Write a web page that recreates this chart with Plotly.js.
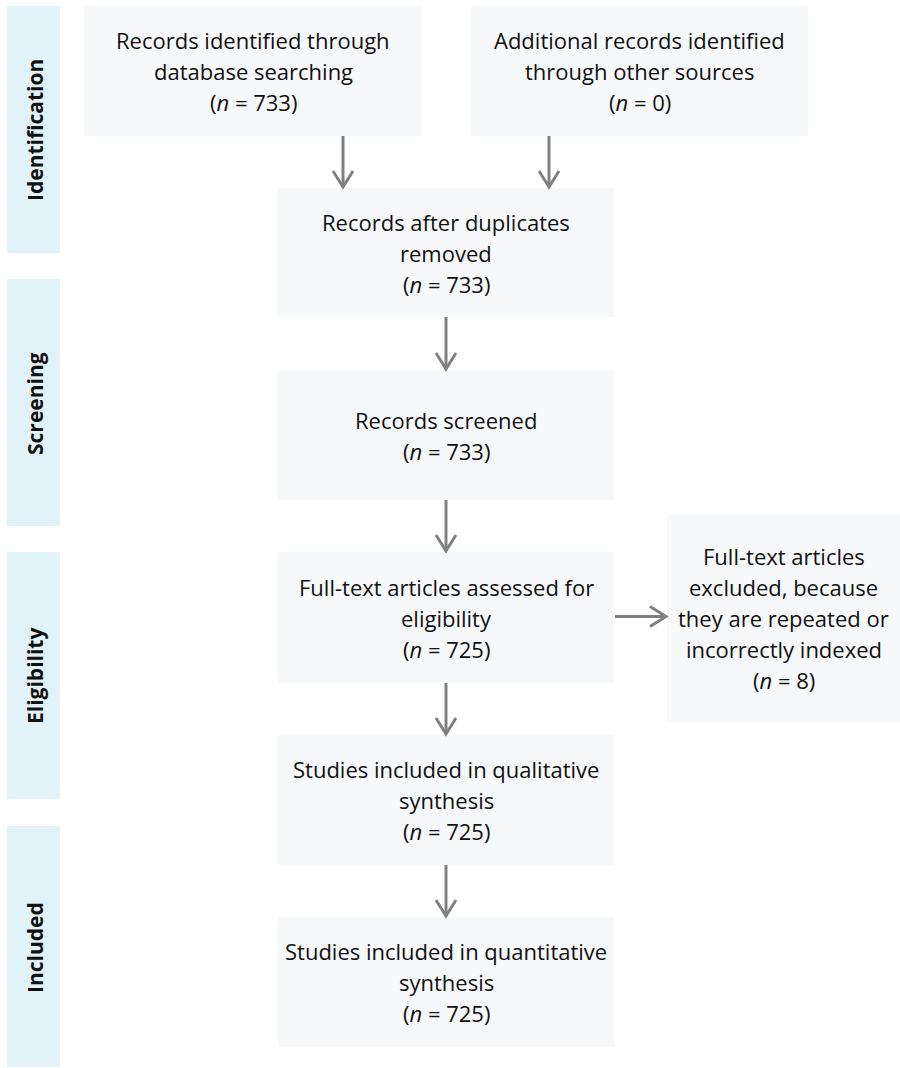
<!DOCTYPE html>
<html>
<head>
<meta charset="utf-8">
<script src="https://cdn.plot.ly/plotly-3.0.1.min.js"></script>
<style>html,body{margin:0;padding:0;background:#fff;}#chart{width:900px;height:1068px;}</style>
</head>
<body>
<div id="chart"></div>
<script>
// ---- data ----
const stageNames = ["Identification", "Screening", "Eligibility", "Included"];
const boxLabels = [
  ["Records identified through", "database searching"],
  ["Additional records identified", "through other sources"],
  ["Records after duplicates", "removed"],
  ["Records screened"],
  ["Full-text articles assessed for", "eligibility"],
  ["Full-text articles", "excluded, because", "they are repeated or", "incorrectly indexed"],
  ["Studies included in qualitative", "synthesis"],
  ["Studies included in quantitative", "synthesis"]
];
const boxCounts = [733, 0, 733, 733, 725, 8, 725, 725];
// flow links: [from, to]
const links = [[0, 2], [1, 2], [2, 3], [3, 4], [4, 5], [4, 6], [6, 7]];

// ---- layout geometry (pixels) ----
const W = 900, H = 1068;
const bandX = [7, 60];
const bandY = [[6, 253], [279, 526], [552, 799], [826, 1067]];
const boxGeom = [
  {x0: 84, x1: 422, y0: 6, y1: 136},
  {x0: 471, x1: 808, y0: 6, y1: 136},
  {x0: 278, x1: 614, y0: 188, y1: 317},
  {x0: 278, x1: 614, y0: 370, y1: 500},
  {x0: 278, x1: 614, y0: 552, y1: 683},
  {x0: 667, x1: 900, y0: 514, y1: 722},
  {x0: 278, x1: 614, y0: 735, y1: 865},
  {x0: 278, x1: 614, y0: 917, y1: 1047}
];
const dropX = [343, 549]; // arrow positions from the two top boxes
const boxFill = "#f7f8fa";
const bandFill = "#e1f2f9";
const arrowColor = "#808080";
const textColor = "#111111";
const fontFam = "'Open Sans', 'Noto Sans', sans-serif";
const lineGap = 31;
const boxFont = 22;

const shapes = [];
const annotations = [];

// stage bands
stageNames.forEach((name, i) => {
  const [y0, y1] = bandY[i];
  shapes.push({type: "rect", xref: "x", yref: "y", x0: bandX[0], x1: bandX[1], y0: y0, y1: y1,
    fillcolor: bandFill, line: {width: 0}, layer: "below"});
  annotations.push({xref: "x", yref: "y", x: (bandX[0] + bandX[1]) / 2 + 1, y: (y0 + y1) / 2 + 1,
    text: "<b>" + name + "</b>", textangle: -90, showarrow: false,
    font: {family: fontFam, size: 21, color: textColor}, xanchor: "center", yanchor: "middle"});
});

// boxes
boxGeom.forEach((g, i) => {
  shapes.push({type: "rect", xref: "x", yref: "y", x0: g.x0, x1: g.x1, y0: g.y0, y1: g.y1,
    fillcolor: boxFill, line: {width: 0}, layer: "below"});
  const lines = boxLabels[i].concat(["(<i>n</i> = " + boxCounts[i] + ")"]);
  const cx = (g.x0 + g.x1) / 2;
  const cy = (g.y0 + g.y1) / 2;
  const n = lines.length;
  lines.forEach((t, k) => {
    annotations.push({xref: "x", yref: "y", x: cx, y: cy + (k - (n - 1) / 2) * lineGap,
      text: t, showarrow: false, xanchor: "center", yanchor: "middle",
      font: {family: fontFam, size: boxFont, color: textColor}});
  });
});

// arrows
function chevron(tx, ty, dir) {
  const a = 10, b = 16;
  if (dir === "down") return `M ${tx - a} ${ty - b} L ${tx} ${ty} L ${tx + a} ${ty - b}`;
  return `M ${tx - b} ${ty - a} L ${tx} ${ty} L ${tx - b} ${ty + a}`;
}
links.forEach(([f, t]) => {
  const A = boxGeom[f], B = boxGeom[t];
  if (B.x0 >= A.x1) {
    const y = (A.y0 + A.y1) / 2 - 1;
    shapes.push({type: "line", xref: "x", yref: "y", x0: A.x1 + 1, x1: B.x0 - 1, y0: y, y1: y,
      line: {color: arrowColor, width: 3}});
    shapes.push({type: "path", xref: "x", yref: "y", path: chevron(B.x0 - 1, y, "right"),
      line: {color: arrowColor, width: 3}});
  } else {
    const x = (f < 2) ? dropX[f] : (A.x0 + A.x1) / 2;
    shapes.push({type: "line", xref: "x", yref: "y", x0: x, x1: x, y0: A.y1, y1: B.y0 - 1,
      line: {color: arrowColor, width: 3}});
    shapes.push({type: "path", xref: "x", yref: "y", path: chevron(x, B.y0 - 1, "down"),
      line: {color: arrowColor, width: 3}});
  }
});

const layout = {
  width: W, height: H,
  margin: {l: 0, r: 0, t: 0, b: 0, pad: 0},
  paper_bgcolor: "#ffffff", plot_bgcolor: "#ffffff",
  xaxis: {range: [0, W], visible: false, fixedrange: true},
  yaxis: {range: [H, 0], visible: false, fixedrange: true},
  shapes: shapes, annotations: annotations, showlegend: false
};
Plotly.newPlot("chart", [], layout, {displayModeBar: false, staticPlot: true});
</script>
</body>
</html>
